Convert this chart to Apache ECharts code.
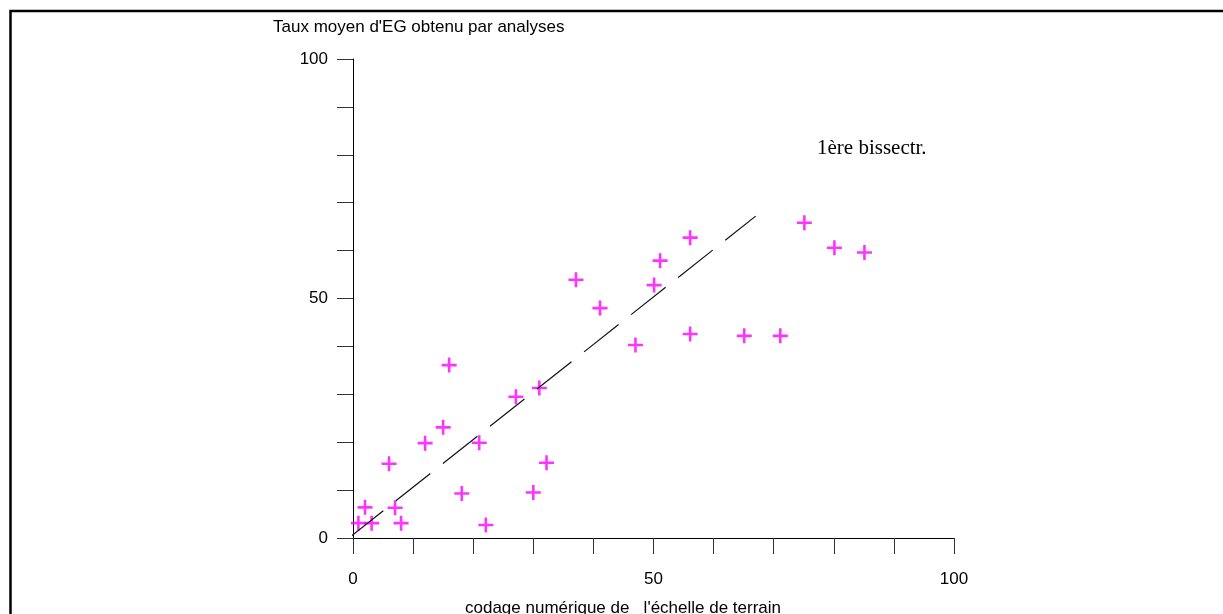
<!DOCTYPE html>
<html>
<head>
<meta charset="utf-8">
<script src="https://cdn.jsdelivr.net/npm/echarts@6/dist/echarts.min.js"></script>
<style>
  html, body { margin: 0; padding: 0; background: #fff; }
  #main { width: 1223px; height: 614px; }
</style>
</head>
<body>
<div id="main"></div>
<script>
// codage numérique de l'échelle de terrain (x) / taux moyen d'EG (y)
const codage = [0.9, 3.1, 8.0, 2.0, 7.0, 6.0, 12.0, 15.0, 16.0, 18.1, 21.0, 22.1, 27.1, 30.0,
                31.0, 32.2, 37.1, 41.1, 47.0, 50.1, 51.1, 56.1, 56.1, 65.1, 71.1, 75.1, 80.1, 85.1];
const tauxEG = [3.1, 3.1, 3.1, 6.4, 6.3, 15.5, 19.8, 23.1, 36.1, 9.3, 19.9, 2.7, 29.5, 9.5,
                31.3, 15.7, 53.9, 48.0, 40.3, 52.8, 57.9, 62.7, 42.6, 42.2, 42.2, 65.8, 60.6, 59.6];

// 1ère bissectrice (tracé en tirets)
const bissX = [-0.7, 67.0];
const bissY = [0, 67.2];

const xTickLabels = [0, 50, 100];
const yTickLabels = [0, 50, 100];

let chart = echarts.init(document.getElementById('main'));

let points = codage.map(function(x, i) { return [x, tauxEG[i]]; });
let bissectrice = bissX.map(function(x, i) { return [x, bissY[i]]; });

let labelFont = 'Liberation Sans, Arial, sans-serif';
let plus = 'path://M6.2,0 h2.6 v6.2 h6.2 v2.6 h-6.2 v6.2 h-2.6 v-6.2 h-6.2 v-2.6 h6.2 z';

let options = {
    animation: false,
    backgroundColor: '#fff',
    grid: { left: 353, top: 59, width: 601, height: 479 },
    xAxis: {
        type: 'value',
        min: 0,
        max: 100,
        interval: 10,
        splitLine: { show: false },
        axisLine: { lineStyle: { color: '#000', width: 1 } },
        axisTick: { length: 16, lineStyle: { color: '#333' } },
        axisLabel: {
            margin: 33,
            fontSize: 17,
            color: '#000',
            fontFamily: labelFont,
            formatter: function(v) { return xTickLabels.indexOf(v) >= 0 ? String(v) : ''; }
        }
    },
    yAxis: {
        type: 'value',
        min: 0,
        max: 100,
        interval: 10,
        splitLine: { show: false },
        axisLine: { lineStyle: { color: '#000', width: 1 } },
        axisTick: { length: 16, lineStyle: { color: '#333' } },
        axisLabel: {
            margin: 25,
            fontSize: 17,
            color: '#000',
            fontFamily: labelFont,
            formatter: function(v) { return yTickLabels.indexOf(v) >= 0 ? String(v) : ''; }
        }
    },
    graphic: [
        {
            type: 'polyline',
            shape: { points: [[10.5, 614], [10.5, 11], [1223, 11]] },
            style: { stroke: '#000', lineWidth: 2.5, fill: null }
        },
        {
            type: 'text',
            style: {
                x: 273, y: 19,
                text: "Taux moyen d'EG obtenu par analyses",
                font: '17px ' + labelFont,
                fill: '#000',
                verticalAlign: 'top'
            }
        },
        {
            type: 'text',
            style: {
                x: 465, y: 600,
                text: "codage numérique de   l'échelle de terrain",
                font: '17px ' + labelFont,
                fill: '#000',
                verticalAlign: 'top'
            }
        },
        {
            type: 'text',
            style: {
                x: 817, y: 138,
                text: '1ère bissectr.',
                font: '21px Liberation Serif, Times New Roman, serif',
                fill: '#000',
                verticalAlign: 'top'
            }
        }
    ],
    series: [
        {
            name: '1ère bissectr.',
            type: 'line',
            data: bissectrice,
            showSymbol: false,
            clip: false,
            silent: true,
            lineStyle: { color: '#111', width: 1.2, type: [44, 16] }
        },
        {
            name: 'analyses',
            type: 'scatter',
            data: points,
            symbol: plus,
            symbolSize: 15,
            itemStyle: { color: '#FF00FF' }
        }
    ]
};

chart.setOption(options);
</script>
</body>
</html>
